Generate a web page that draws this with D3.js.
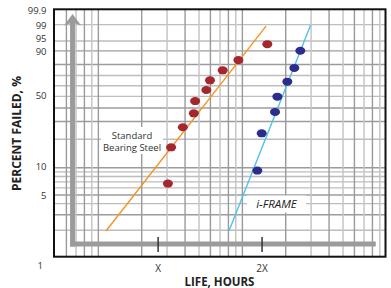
<!DOCTYPE html>
<html><head><meta charset="utf-8">
<script src="https://cdn.jsdelivr.net/npm/d3@7"></script>
<style>body{margin:0;background:#fff}svg{display:block}</style>
</head><body><svg id="c" width="391" height="288"></svg>
<script>
// ---- data ----
const yTickLabels = ["99.9","99","95","90","50","10","5","1"];
const yTickValues = [99.9,99,95,90,50,10,5,1];
const yGridValues = [99,95,90,80,70,60,50,40,30,20,10,9,8,7,6,5,4,3,2];
const xGridMajor = [0.3,0.4,0.5,1,2,3,4,5,10,20,30,40];
const xGridMinor = [0.35,0.45,1.5,2.5,3.5,4.5,15,25,35,45];
const xTickLabels = ["X","2X"];
const xTickValues = [1.3,6.85];
const steelLife   = [1.52,1.60,1.93,2.30,2.35,2.81,2.98,3.65,4.69,7.45];
const steelFailed = [6.7,16.5,26.4,35.8,45.8,56.0,65.3,74.8,83.6,93.6];
const iframeLife   = [6.35,6.81,8.43,8.75,10.26,11.47,12.63];
const iframeFailed = [9.3,23.0,36.8,49.7,64.0,76.9,90.1];
const steelFitLife = [0.565,7.30];
const steelFitFailed = [1.96,98.8];
const iframeFitLife = [4.04,14.9];
const iframeFitFailed = [1.98,98.96];
const seriesNames = ["Standard","Bearing Steel","i-FRAME"];

// ---- layout ----
const frame = {left:54, top:9.3, right:385.5, bottom:256.7};
const weib = p => Math.log(-Math.log(1 - p/100));
const x = d3.scaleLog().domain([0.246, 49.3]).range([frame.left, frame.right]);
const yLin = d3.scaleLinear().domain([weib(1), weib(99.9)]).range([frame.bottom, frame.top]);
const y = p => yLin(weib(p));

const svg = d3.select("#c");
const font = "'Open Sans', 'Noto Sans', sans-serif";

// grid
const g = svg.append("g");
g.selectAll("line.hy").data(yGridValues).join("line")
  .attr("x1", frame.left).attr("x2", frame.right)
  .attr("y1", d => y(d)).attr("y2", d => y(d))
  .attr("stroke", d => [90,80,40,30,10,5,3].includes(d) ? "#9c9c9c" : "#bdbdbd")
  .attr("stroke-width", 1.4);
g.selectAll("line.vmin").data(xGridMinor).join("line")
  .attr("x1", d => x(d)).attr("x2", d => x(d))
  .attr("y1", frame.top).attr("y2", frame.bottom)
  .attr("stroke", "#c6c6c6").attr("stroke-width", 1.5);
g.selectAll("line.vmaj").data(xGridMajor).join("line")
  .attr("x1", d => x(d)).attr("x2", d => x(d))
  .attr("y1", frame.top).attr("y2", frame.bottom)
  .attr("stroke", "#9a9a9a").attr("stroke-width", 1.4);

// thick gray L-axis with arrow
const axX = x(0.331), axY = y(1.4), axEnd = x(42.2);
svg.append("line").attr("x1", axX).attr("x2", axX).attr("y1", 22).attr("y2", axY + 2.5)
  .attr("stroke", "#9b9b9b").attr("stroke-width", 5);
svg.append("line").attr("x1", axX - 2.5).attr("x2", axEnd).attr("y1", axY).attr("y2", axY)
  .attr("stroke", "#9b9b9b").attr("stroke-width", 5);
svg.append("path")
  .attr("d", `M${axX},14 L${axX+8.5},25.5 L${axX},22.5 L${axX-8.5},25.5 Z`)
  .attr("fill", "#9b9b9b");

// ticks on gray axis
svg.selectAll("line.xt").data(xTickValues).join("line")
  .attr("x1", d => x(d)).attr("x2", d => x(d))
  .attr("y1", axY - 7).attr("y2", axY + 8)
  .attr("stroke", "#333").attr("stroke-width", 1.5);

// annotation boxes
svg.append("rect").attr("x", 101).attr("y", 127).attr("width", 62).attr("height", 27).attr("fill", "#fff");
svg.append("rect").attr("x", 247).attr("y", 195.5).attr("width", 59).attr("height", 17).attr("fill", "#fff");

// fit lines
const lineGen = d3.line().x(d => x(d[0])).y(d => y(d[1]));
svg.append("path").datum(d3.zip(steelFitLife, steelFitFailed))
  .attr("d", lineGen).attr("stroke", "#f7931e").attr("stroke-width", 1.4).attr("fill", "none");
svg.append("path").datum(d3.zip(iframeFitLife, iframeFitFailed))
  .attr("d", lineGen).attr("stroke", "#4fc1ee").attr("stroke-width", 1.4).attr("fill", "none");

// points
svg.selectAll("ellipse.s").data(d3.zip(steelLife, steelFailed)).join("ellipse")
  .attr("cx", d => x(d[0])).attr("cy", d => y(d[1])).attr("rx", 5).attr("ry", 4)
  .attr("fill", "#a3272d");
svg.selectAll("ellipse.f").data(d3.zip(iframeLife, iframeFailed)).join("ellipse")
  .attr("cx", d => x(d[0])).attr("cy", d => y(d[1])).attr("rx", 5).attr("ry", 4)
  .attr("fill", "#2b2c8c");

// frame
svg.append("rect").attr("x", frame.left).attr("y", frame.top)
  .attr("width", frame.right - frame.left).attr("height", frame.bottom - frame.top)
  .attr("fill", "none").attr("stroke", "#111").attr("stroke-width", 2);

// annotation text
svg.append("text").attr("x", 132).attr("y", 138.5).attr("text-anchor", "middle")
  .attr("font-family", font).attr("font-size", 9.5).attr("fill", "#333").text(seriesNames[0]);
svg.append("text").attr("x", 132).attr("y", 150.5).attr("text-anchor", "middle")
  .attr("font-family", font).attr("font-size", 9.5).attr("fill", "#333").text(seriesNames[1]);
svg.append("text").attr("x", 276.5).attr("y", 208).attr("text-anchor", "middle")
  .attr("font-family", font).attr("font-size", 11.5).attr("font-style", "italic").attr("fill", "#222").text(seriesNames[2]);

// y tick labels (label nudges follow the reference's placement)
const yLabelNudge = {99.9:1.7, 99:1.0, 95:-2.1, 90:0.5, 50:-0.9, 10:-1.4, 5:0.6, 1:9.3};
svg.selectAll("text.yl").data(yTickValues).join("text")
  .attr("x", d => d === 1 ? 43 : 46.5)
  .attr("y", d => y(d) + yLabelNudge[d])
  .attr("dy", "0.35em")
  .attr("text-anchor", "end").attr("font-family", font).attr("font-size", 9.5).attr("fill", "#333")
  .text((d,i) => yTickLabels[i]);

// x tick labels
svg.selectAll("text.xl").data(xTickValues).join("text")
  .attr("x", d => x(d)).attr("y", 271.5).attr("text-anchor", "middle")
  .attr("font-family", font).attr("font-size", 10).attr("fill", "#333")
  .text((d,i) => xTickLabels[i]);

// axis titles
svg.append("text").attr("x", 219.5).attr("y", 285.5).attr("text-anchor", "middle")
  .attr("font-family", font).attr("font-size", 11.5).attr("font-weight", "bold").attr("fill", "#222")
  .text("LIFE, HOURS");
svg.append("text").attr("transform", "translate(20.5,133.5) rotate(-90)").attr("text-anchor", "middle")
  .attr("font-family", font).attr("font-size", 12).attr("font-weight", "bold").attr("fill", "#222")
  .text("PERCENT FAILED, %");
</script></body></html>
